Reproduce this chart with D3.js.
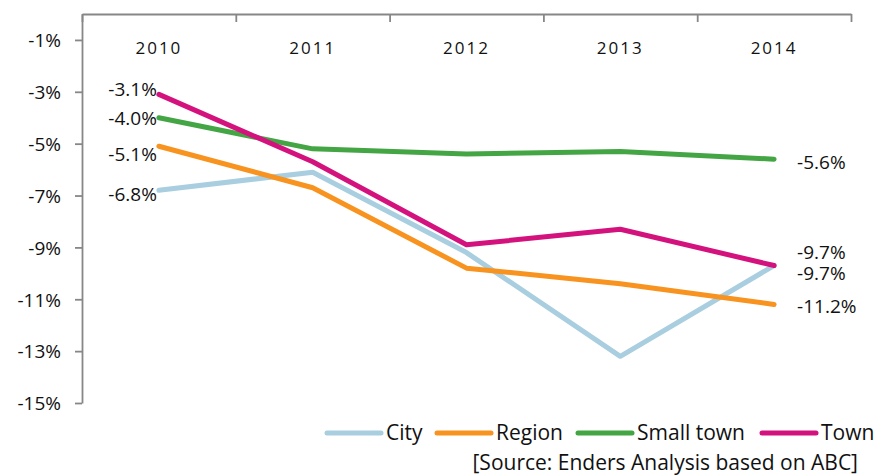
<!DOCTYPE html>
<html>
<head>
<meta charset="utf-8">
<script src="https://cdn.jsdelivr.net/npm/d3@7"></script>
<style>
body{margin:0;background:#fff;}
text{font-family:"Open Sans",sans-serif;fill:#111;}
</style>
</head>
<body>
<svg class="chart"></svg>
<script>
var years=["2010","2011","2012","2013","2014"];
var seriesNames=["City","Region","Small town","Town"];
var city=[-6.8,-6.1,-9.2,-13.2,-9.7];
var region=[-5.1,-6.7,-9.8,-10.4,-11.2];
var smallTown=[-4.0,-5.2,-5.4,-5.3,-5.6];
var town=[-3.1,-5.7,-8.9,-8.3,-9.7];
var yTicks=[-1,-3,-5,-7,-9,-11,-13,-15];
var sourceText="[Source: Enders Analysis based on ABC]";

var screen=
{
  width:876,
  height:476
};
var svg=d3.select("svg.chart")
          .attr("width",screen.width)
          .attr("height",screen.height);

var colors=d3.scaleOrdinal()
             .domain(seriesNames)
             .range(["#a9cee0","#f7931e","#43a543","#d4127e"]);

var series=[
  {name:"City",values:city,dyStart:4,dyEnd:8},
  {name:"Region",values:region,dyStart:8,dyEnd:2},
  {name:"Small town",values:smallTown,dyStart:1,dyEnd:3},
  {name:"Town",values:town,dyStart:-5,dyEnd:-13}
];

var plotArea=
{
  left:82,
  right:851,
  top:14,
  bottom:403
};
var xscale=d3.scaleBand()
             .domain(years)
             .range([plotArea.left,plotArea.right]);
var edges=d3.scaleLinear()
            .domain([0,years.length])
            .range([plotArea.left,plotArea.right]);
var yscale=d3.scaleLinear()
             .domain([0,-15])
             .range([plotArea.top,plotArea.bottom]);
var cx=function(i){ return xscale(years[i])+xscale.bandwidth()/2; };

// y axis
var yAxis=d3.axisLeft(yscale)
            .tickValues(yTicks)
            .tickSize(7)
            .tickSizeOuter(0)
            .tickPadding(14)
            .tickFormat(function(d){ return d+"%"; });
var gy=svg.append("g")
          .attr("transform","translate("+plotArea.left+",0)")
          .call(yAxis);
gy.selectAll("text")
  .style("font-size","19px")
  .style("font-family","'Open Sans',sans-serif")
  .attr("fill","#111")
  .attr("dy","0.36em");

// top axis: boundary ticks
var topAxis=d3.axisTop(edges)
              .tickValues(d3.range(0,years.length+1))
              .tickSize(-8)
              .tickSizeOuter(0)
              .tickFormat("");
svg.append("g")
   .attr("transform","translate(0,"+plotArea.top+")")
   .call(topAxis);

svg.selectAll(".domain, .tick line")
   .attr("stroke","#878787")
   .attr("stroke-width",1.8);

// year labels
svg.append("g")
   .selectAll("text")
   .data(years)
   .enter()
   .append("text")
   .attr("x",function(d,i){ return cx(i); })
   .attr("y",54)
   .attr("text-anchor","middle")
   .style("font-size","17px")
   .style("letter-spacing","2px")
   .text(function(d){ return d; });

// lines
var line=d3.line()
           .x(function(d,i){ return cx(i); })
           .y(function(d){ return yscale(d); });
var plot=svg.append("g");
plot.selectAll("path")
    .data(series)
    .enter()
    .append("path")
    .attr("d",function(d){ return line(d.values); })
    .attr("fill","none")
    .attr("stroke",function(d){ return colors(d.name); })
    .attr("stroke-width",5)
    .attr("stroke-linecap","round")
    .attr("stroke-linejoin","round");

// data labels
var labels=svg.append("g").style("font-size","19px");
labels.selectAll("text.start")
      .data(series)
      .enter()
      .append("text")
      .classed("start",true)
      .attr("x",cx(0)-2)
      .attr("y",function(d){ return yscale(d.values[0])+d.dyStart; })
      .attr("dy","0.35em")
      .attr("text-anchor","end")
      .text(function(d){ return d.values[0].toFixed(1)+"%"; });
labels.selectAll("text.end")
      .data(series)
      .enter()
      .append("text")
      .classed("end",true)
      .attr("x",cx(years.length-1)+23)
      .attr("y",function(d){ return yscale(d.values[years.length-1])+d.dyEnd; })
      .attr("dy","0.35em")
      .text(function(d){ return d.values[years.length-1].toFixed(1)+"%"; });

// legend
var legendX=[327,437,578,762];
var legend=svg.append("g")
              .attr("transform","translate(0,433)");
var legendline=legend.selectAll("g")
                     .data(seriesNames)
                     .enter()
                     .append("g")
                     .attr("transform",function(d,i){ return "translate("+legendX[i]+",0)"; });
legendline.append("line")
          .attr("x1",0)
          .attr("x2",54)
          .attr("stroke",function(d){ return colors(d); })
          .attr("stroke-width",5)
          .attr("stroke-linecap","round");
legendline.append("text")
          .attr("x",59)
          .attr("dy","0.35em")
          .style("font-size","21px")
          .text(function(d){ return d; });

svg.append("text")
   .attr("x",858)
   .attr("y",463)
   .attr("dy","0.35em")
   .attr("text-anchor","end")
   .style("font-size","21px")
   .text(sourceText);
</script>
</body>
</html>
